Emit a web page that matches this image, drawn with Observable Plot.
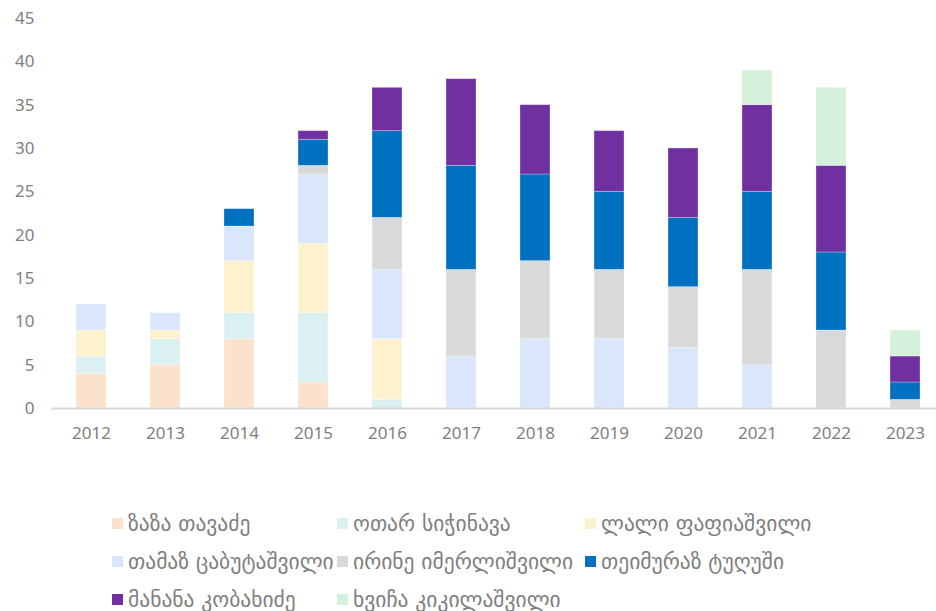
<!DOCTYPE html>
<html><head><meta charset="utf-8">
<script src="https://cdn.jsdelivr.net/npm/d3@7"></script>
<script src="https://cdn.jsdelivr.net/npm/@observablehq/plot@0.6"></script>
<style>
body{margin:0;background:#fff;width:936px;height:611px;overflow:hidden;font-family:"Noto Sans","DejaVu Sans",sans-serif;}
#legend{position:absolute;left:0;top:0;width:936px;height:611px;pointer-events:none;}
.item{position:absolute;display:flex;align-items:center;font-family:"DejaVu Sans",sans-serif;font-size:21.5px;color:#7f7f7f;white-space:nowrap;}
.sw{width:11px;height:11px;margin-right:5px;flex:none;}
</style></head>
<body>
<div id="chart"></div>
<div id="legend"></div>
<script>
const years = ["2012","2013","2014","2015","2016","2017","2018","2019","2020","2021","2022","2023"];
const seriesNames = ["ზაზა თავაძე","ოთარ სიჭინავა","ლალი ფაფიაშვილი","თამაზ ცაბუტაშვილი","ირინე იმერლიშვილი","თეიმურაზ ტუღუში","მანანა კობახიძე","ხვიჩა კიკილაშვილი"];
const colors = ["#FCE2CD","#DBF0F1","#FEF2CE","#D9E6FB","#D9D9D9","#0070C0","#7030A0","#D4F1DC"];
const zaza     = [4,5,8,3,0,0,0,0,0,0,0,0];
const otar     = [2,3,3,8,1,0,0,0,0,0,0,0];
const lali     = [3,1,6,8,7,0,0,0,0,0,0,0];
const tamaz    = [3,2,4,8,8,6,8,8,7,5,0,0];
const irine    = [0,0,0,1,6,10,9,8,7,11,9,1];
const teimuraz = [0,0,2,3,10,12,10,9,8,9,9,2];
const manana   = [0,0,0,1,5,10,8,7,8,10,10,3];
const khvicha  = [0,0,0,0,0,0,0,0,0,4,9,3];
const yTicks = [0,5,10,15,20,25,30,35,40,45];

const seriesValues = [zaza,otar,lali,tamaz,irine,teimuraz,manana,khvicha];
const rows = [];
seriesValues.forEach((vals, si) => {
  vals.forEach((v, yi) => { if (v > 0) rows.push({year: years[yi], name: seriesNames[si], order: si, value: v}); });
});

const chart = Plot.plot({
  width: 936,
  height: 470,
  marginLeft: 51,
  marginRight: -8,
  marginTop: 18,
  marginBottom: 62,
  style: {fontFamily: '"Noto Sans","DejaVu Sans",sans-serif', fontSize: "17px", color: "#7f7f7f", background: "#fff"},
  x: {domain: years, paddingInner: 0.6, paddingOuter: 0.3, label: null, tickSize: 0, tickPadding: 18},
  y: {domain: [0, 45], ticks: yTicks, label: null, tickSize: 0, tickPadding: 17},
  color: {domain: seriesNames, range: colors},
  marks: [
    Plot.barY(rows, {x: "year", y: "value", fill: "name", order: seriesNames, stroke: "#ffffff", strokeOpacity: 0.35, strokeWidth: 0.8}),
    Plot.ruleY([0], {stroke: "#D9D9D9", strokeWidth: 2})
  ]
});
document.getElementById("chart").appendChild(chart);

// legend (3 columns)
const colX = [112, 337, 585];
const rowY = [523, 561, 599];
const leg = document.getElementById("legend");
seriesNames.forEach((n, i) => {
  const r = Math.floor(i / 3), c = i % 3;
  const d = document.createElement("div");
  d.className = "item";
  d.style.left = colX[c] + "px";
  d.style.top = (rowY[r] - 13) + "px";
  d.style.height = "26px";
  d.innerHTML = `<span class="sw" style="background:${colors[i]}"></span><span>${n}</span>`;
  leg.appendChild(d);
});
</script>
</body></html>
